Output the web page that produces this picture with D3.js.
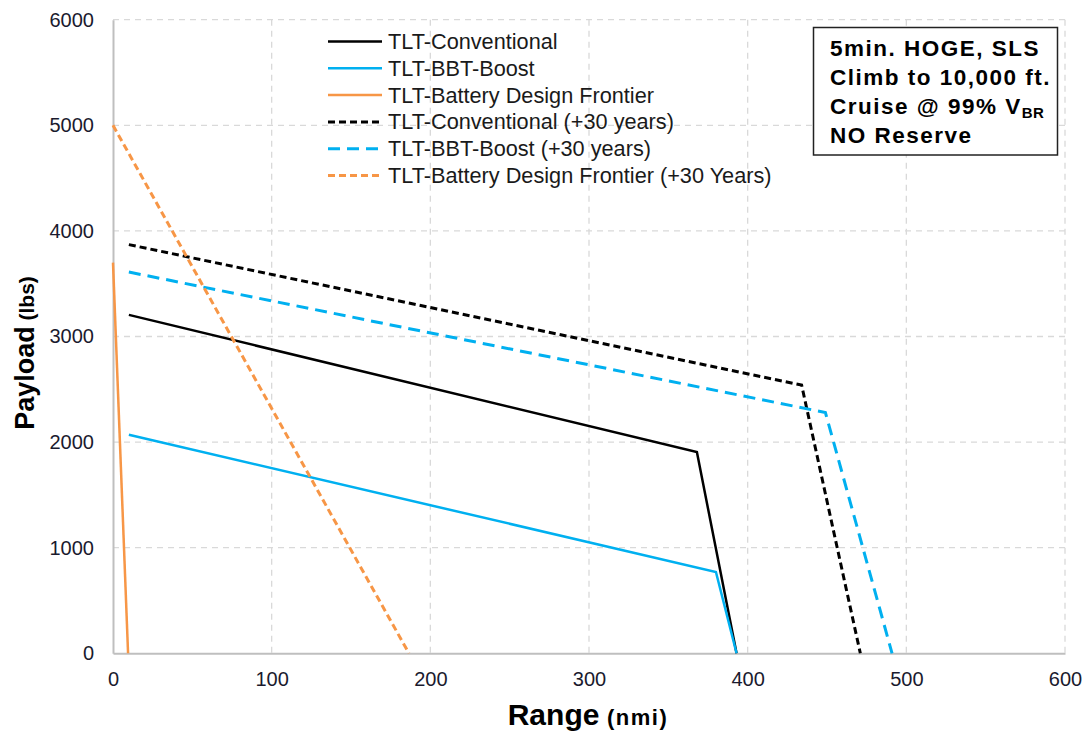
<!DOCTYPE html>
<html><head><meta charset="utf-8">
<script src="https://cdn.jsdelivr.net/npm/d3@7"></script>
<style>body{margin:0;background:#fff;} svg{display:block;}</style>
</head><body>
<svg id="chart" width="1086" height="737"></svg>
<script>
const xTicks = [0, 100, 200, 300, 400, 500, 600];
const yTicks = [0, 1000, 2000, 3000, 4000, 5000, 6000];

const seriesNames = [
  "TLT-Conventional",
  "TLT-BBT-Boost",
  "TLT-Battery Design Frontier",
  "TLT-Conventional (+30 years)",
  "TLT-BBT-Boost (+30 years)",
  "TLT-Battery Design Frontier (+30 Years)"
];
const convRange = [10, 368, 393];
const convPayload = [3205, 1905, 0];
const bbtRange = [10, 380, 393];
const bbtPayload = [2070, 770, 0];
const battRange = [0, 9.5];
const battPayload = [3700, 0];
const conv30Range = [10, 434, 471];
const conv30Payload = [3870, 2540, 0];
const bbt30Range = [10, 449, 491];
const bbt30Payload = [3610, 2280, 0];
const batt30Range = [0, 186.5];
const batt30Payload = [5000, 0];

const annotationLines = ["5min. HOGE, SLS", "Climb to 10,000 ft.", "Cruise @ 99% V", "NO Reserve"];

const BLACK = "#000000", BLUE = "#00B0F0", ORANGE = "#F79646";
const series = [
  {name: seriesNames[0], xs: convRange, ys: convPayload, color: BLACK, dash: null, w: 2.5},
  {name: seriesNames[1], xs: bbtRange, ys: bbtPayload, color: BLUE, dash: null, w: 2.5},
  {name: seriesNames[2], xs: battRange, ys: battPayload, color: ORANGE, dash: null, w: 2.5},
  {name: seriesNames[3], xs: conv30Range, ys: conv30Payload, color: BLACK, dash: "7,4", w: 3},
  {name: seriesNames[4], xs: bbt30Range, ys: bbt30Payload, color: BLUE, dash: "12,7", w: 3},
  {name: seriesNames[5], xs: batt30Range, ys: batt30Payload, color: ORANGE, dash: "7,4", w: 3}
];

const svg = d3.select("#chart");
const L = 113, R = 1065, T = 19.7, B = 653.3;
const x = d3.scaleLinear().domain([0, 600]).range([L, R]);
const y = d3.scaleLinear().domain([0, 6000]).range([B, T]);
const font = "'Liberation Sans', Arial, sans-serif";

// grid
const grid = svg.append("g");
grid.selectAll("line.h").data(yTicks.filter(d => d > 0)).enter().append("line")
  .attr("x1", L).attr("x2", R).attr("y1", d => y(d)).attr("y2", d => y(d))
  .attr("stroke", "#d9d9d9").attr("stroke-width", 1.3).attr("stroke-dasharray", "6,5");
grid.selectAll("line.v").data(xTicks.filter(d => d > 0)).enter().append("line")
  .attr("y1", T).attr("y2", B).attr("x1", d => x(d)).attr("x2", d => x(d))
  .attr("stroke", "#d9d9d9").attr("stroke-width", 1.3).attr("stroke-dasharray", "6,5");

// axes
const fmt = d3.format("d");
const xAxis = svg.append("g").attr("transform", `translate(0,${B})`)
  .call(d3.axisBottom(x).tickValues(xTicks).tickFormat(fmt).tickSize(0).tickPadding(19));
const yAxis = svg.append("g").attr("transform", `translate(${L},0)`)
  .call(d3.axisLeft(y).tickValues(yTicks).tickFormat(fmt).tickSize(0).tickPadding(19));
[xAxis, yAxis].forEach(a => {
  a.select(".domain").attr("stroke", "#bfbfbf").attr("stroke-width", 2);
  a.selectAll("text").attr("font-family", font).attr("font-size", 20).attr("fill", "#1a1a2e");
});

// lines
const line = d3.line().x(d => x(d[0])).y(d => y(d[1]));
series.forEach(s => {
  const pts = s.xs.map((v, i) => [v, s.ys[i]]);
  svg.append("path").datum(pts).attr("d", line)
    .attr("fill", "none").attr("stroke", s.color).attr("stroke-width", s.w)
    .attr("stroke-dasharray", s.dash).attr("stroke-linejoin", "miter");
});

// legend
const lg = svg.append("g");
series.forEach((s, i) => {
  const yy = 41.5 + i * 26.8;
  lg.append("line").attr("x1", 328).attr("x2", 382).attr("y1", yy).attr("y2", yy)
    .attr("stroke", s.color).attr("stroke-width", s.w).attr("stroke-dasharray", s.dash);
  lg.append("text").attr("x", 388).attr("y", yy + 7.5).text(s.name)
    .attr("font-family", font).attr("font-size", 21.7).attr("fill", "#1a1a1a");
});

// annotation box
svg.append("rect").attr("x", 813.5).attr("y", 27.5).attr("width", 244).attr("height", 127.5)
  .attr("fill", "#fff").attr("stroke", "#222").attr("stroke-width", 1.5);
const ann = svg.append("g").attr("font-family", font).attr("font-weight", "bold")
  .attr("font-size", 22.5).attr("letter-spacing", 1.5).attr("fill", "#000");
const baselines = [56, 85, 114, 143];
annotationLines.forEach((t, i) => {
  const tx = ann.append("text").attr("x", 830).attr("y", baselines[i]);
  tx.append("tspan").text(t);
  if (i === 2) tx.append("tspan").text("BR").attr("font-size", 15).attr("letter-spacing", 0.5).attr("dy", 4);
});

// axis titles
const xt = svg.append("text").attr("x", 588).attr("y", 725).attr("text-anchor", "middle")
  .attr("font-family", font).attr("font-weight", "bold").attr("fill", "#000");
xt.append("tspan").text("Range").attr("font-size", 30);
xt.append("tspan").text(" (nmi)").attr("font-size", 22).attr("letter-spacing", 1.5);

const yt = svg.append("text").attr("transform", "translate(34,353) rotate(-90)")
  .attr("text-anchor", "middle").attr("font-family", font).attr("font-weight", "bold").attr("fill", "#000");
yt.append("tspan").text("Payload").attr("font-size", 27);
yt.append("tspan").text(" (lbs)").attr("font-size", 21);
</script>
</body></html>
